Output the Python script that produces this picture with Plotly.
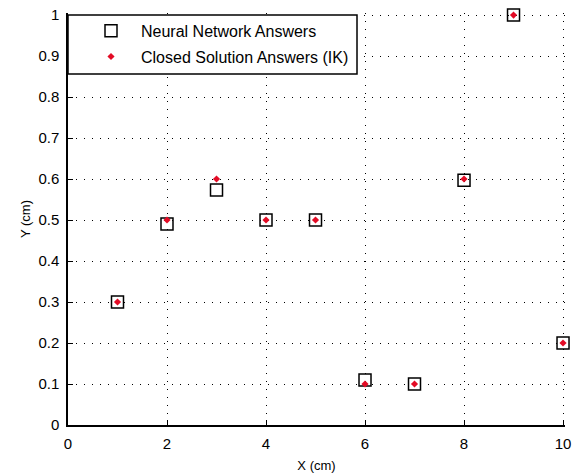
import plotly.graph_objects as go

x_vals = [1, 2, 3, 4, 5, 6, 7, 8, 9, 10]
nn_answers = [0.30, 0.49, 0.573, 0.50, 0.50, 0.11, 0.10, 0.597, 1.0, 0.20]
ik_answers = [0.30, 0.50, 0.60, 0.50, 0.50, 0.10, 0.10, 0.60, 1.0, 0.20]
x_ticks = [0, 2, 4, 6, 8, 10]
y_ticks = [0, 0.1, 0.2, 0.3, 0.4, 0.5, 0.6, 0.7, 0.8, 0.9, 1]
y_tick_text = ["0", "0.1", "0.2", "0.3", "0.4", "0.5", "0.6", "0.7", "0.8", "0.9", "1"]

FAM = "Liberation Sans, Arial, sans-serif"
tick_font = dict(family=FAM, size=15, color="black")
title_font = dict(family=FAM, size=13, color="black")

fig = go.Figure()
fig.add_trace(go.Scatter(
    x=x_vals, y=nn_answers, mode="markers", name="Neural Network Answers",
    legendgroup="nn",
    marker=dict(symbol="square-open", size=12, color="black", line=dict(width=1.5)),
    cliponaxis=False,
))
fig.add_trace(go.Scatter(
    x=x_vals, y=ik_answers, mode="markers", name="Closed Solution Answers (IK)",
    legendgroup="ik",
    marker=dict(symbol="diamond", size=5.5, color="#e30b25"),
    cliponaxis=False,
))

# legend frame (drawn as a shape so its size follows the original figure)
fig.add_shape(type="rect", xref="x domain", yref="y domain",
              x0=0, x1=0.5815, y0=0.852, y1=0.995,
              line=dict(color="black", width=1.5), fillcolor="white", layer="above")

fig.update_layout(
    width=576, height=476,
    margin=dict(l=68, r=11, t=13, b=51),
    paper_bgcolor="white", plot_bgcolor="white",
    font=tick_font,
    showlegend=True,
    legend=dict(x=13/497, y=0.998, xanchor="left", yanchor="top",
                borderwidth=0, bgcolor="rgba(0,0,0,0)",
                font=dict(family=FAM, size=16, color="black"),
                itemwidth=50, traceorder="grouped", tracegroupgap=2),
    xaxis=dict(range=[0, 10.04], tickvals=x_ticks, ticks="inside", ticklen=5,
               tickcolor="black", showline=True, linecolor="black", linewidth=1.5,
               mirror=False, showgrid=True, gridcolor="black", gridwidth=1,
               griddash="1px,7px", zeroline=False, tickfont=tick_font,
               ticklabelstandoff=4, automargin=False,
               title=dict(text="X (cm)", standoff=10, font=title_font)),
    yaxis=dict(range=[0, 1.005], tickvals=y_ticks, ticktext=y_tick_text,
               ticks="inside", ticklen=5, tickfont=tick_font,
               tickcolor="black", showline=True, linecolor="black", linewidth=1.5,
               mirror=False, showgrid=True, gridcolor="black", gridwidth=1,
               griddash="1px,7px", zeroline=False, ticklabelstandoff=4,
               automargin=False,
               title=dict(text="Y (cm)", standoff=5, font=title_font)),
)
fig.write_html("out.html")
